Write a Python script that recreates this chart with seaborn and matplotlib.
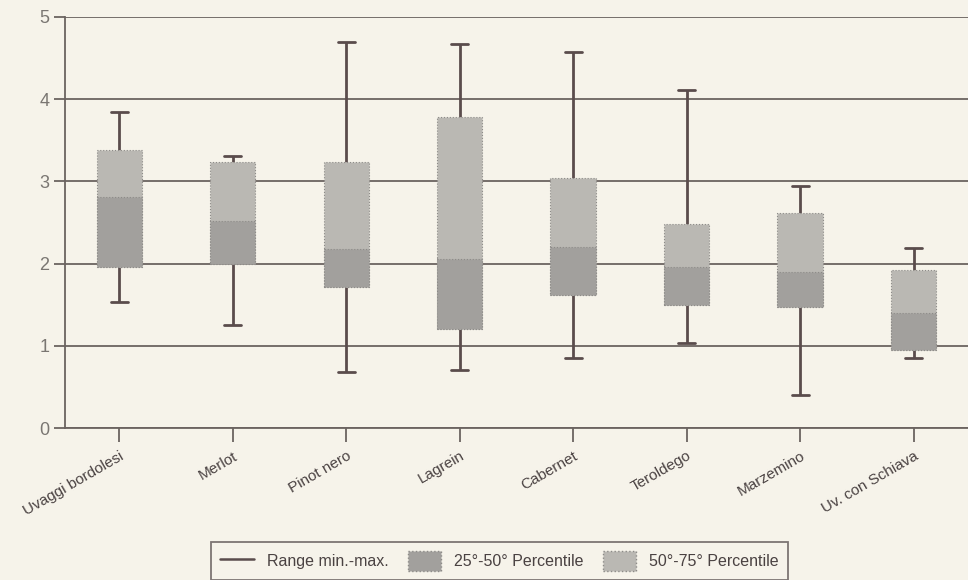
import matplotlib
matplotlib.use("Agg")
import matplotlib.pyplot as plt
import matplotlib.patches as mpatches
import matplotlib.lines as mlines
import pandas as pd
import seaborn as sb

# values
varieties = ["Uvaggi bordolesi", "Merlot", "Pinot nero", "Lagrein",
             "Cabernet", "Teroldego", "Marzemino", "Uv. con Schiava"]
v_min = [1.53, 1.25, 0.68, 0.71, 0.85, 1.03, 0.40, 0.85]
p25 = [1.96, 2.00, 1.72, 1.20, 1.62, 1.49, 1.47, 0.95]
p50 = [2.81, 2.52, 2.18, 2.05, 2.20, 1.96, 1.90, 1.40]
p75 = [3.38, 3.24, 3.24, 3.78, 3.04, 2.48, 2.62, 1.92]
v_max = [3.84, 3.31, 4.69, 4.67, 4.57, 4.11, 2.94, 2.19]
y_ticks = [0, 1, 2, 3, 4, 5]

paper = "#f6f3ea"
dark = "#5a4c4c"
light_box = "#bab8b3"
dark_box = "#a2a09d"

# five points per variety -> quartiles land exactly on the read values
full = pd.DataFrame([(v, x) for v, a, b, c, d, e in zip(varieties, v_min, p25, p50, p75, v_max)
                     for x in (a, b, c, d, e)], columns=["variety", "value"])
low = pd.DataFrame([(v, x) for v, a, b, c, e in zip(varieties, v_min, p25, p50, v_max)
                    for x in (a, b, c, c, e)], columns=["variety", "value"])

sb.set_style("white")
plt.rcParams["font.family"] = ["Liberation Sans Narrow", "Liberation Sans", "DejaVu Sans"]

fig = plt.figure(figsize=(9.68, 5.8), dpi=100, facecolor=paper)
ax = fig.add_axes([0.067, 0.262, 0.933, 0.709], facecolor=paper)

for y in y_ticks:
    ax.axhline(y, color="#6b6360", lw=1.3, zorder=0)

sb.boxplot(data=full, x="variety", y="value", order=varieties, whis=(0, 100),
           width=0.4, color=light_box, linecolor="#8d8b88", linewidth=0.8,
           capwidths=0.15,
           whiskerprops=dict(color=dark, lw=2.0),
           capprops=dict(color=dark, lw=2.0),
           medianprops=dict(color="#7f7c79", lw=1.2),
           boxprops=dict(facecolor=light_box, edgecolor="#8d8b88", ls=":", zorder=3),
           ax=ax)
sb.boxplot(data=low, x="variety", y="value", order=varieties, whis=(0, 100),
           width=0.4, color=dark_box, linewidth=0.8,
           whiskerprops=dict(lw=0), capprops=dict(lw=0),
           medianprops=dict(color="#7f7c79", lw=1.2),
           boxprops=dict(facecolor=dark_box, edgecolor="#8d8b88", ls=":", zorder=4),
           ax=ax)

ax.set_xlim(-0.48, 7.48)
ax.set_ylim(0, 5)
ax.set_yticks(y_ticks)
ax.set_yticklabels([str(t) for t in y_ticks], fontsize=13, color="#7a7672")
ax.set_xticks(range(len(varieties)))
ax.set_xticklabels(varieties, rotation=30, ha="right", rotation_mode="anchor",
                   fontsize=11, color="#4a4242")
ax.tick_params(axis="y", left=True, length=8, width=1.3, color="#6b6360", pad=3)
ax.tick_params(axis="x", bottom=True, length=10, width=1.3, color="#6b6360", pad=5,
               direction="out")
ax.set_xlabel("")
ax.set_ylabel("")
for s in ["top", "right"]:
    ax.spines[s].set_visible(False)
ax.spines["left"].set_color("#6b6360")
ax.spines["left"].set_linewidth(1.3)
ax.spines["bottom"].set_color("#6b6360")
ax.spines["bottom"].set_linewidth(1.3)

handles = [mlines.Line2D([], [], color=dark, lw=1.8),
           mpatches.Patch(facecolor=dark_box, edgecolor="#8d8b88", ls=":"),
           mpatches.Patch(facecolor=light_box, edgecolor="#8d8b88", ls=":")]
labels = ["Range min.-max.", "25°-50° Percentile", "50°-75° Percentile"]
leg = fig.legend(handles, labels, loc="upper center", bbox_to_anchor=(0.516, 0.066),
                 borderaxespad=0, ncol=3, fontsize=11.5, frameon=True, fancybox=False,
                 handlelength=2.1, handleheight=1.5, columnspacing=1.2,
                 borderpad=0.6, labelcolor="#4a4242")
leg.get_frame().set_edgecolor("#5e5656")
leg.get_frame().set_linewidth(1.3)
leg.get_frame().set_facecolor(paper)

fig.savefig("out.png", dpi=100, facecolor=paper)
